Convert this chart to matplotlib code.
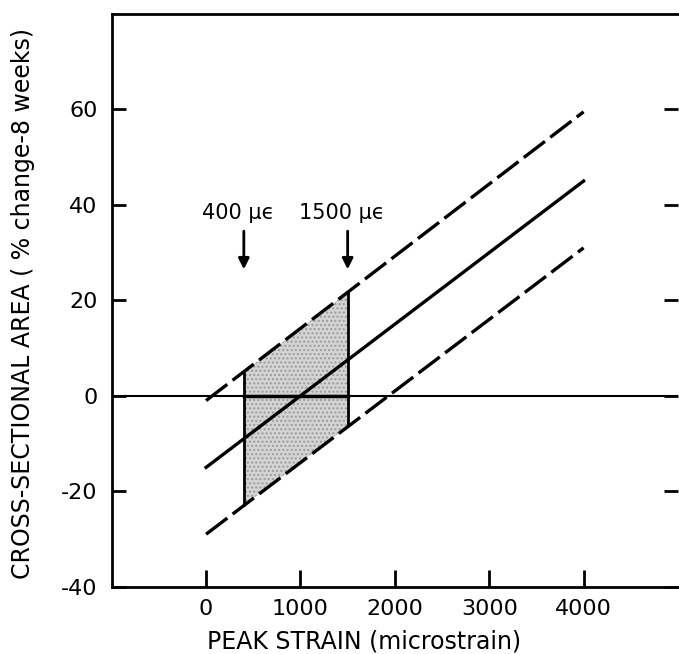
import numpy as np
import matplotlib
matplotlib.use('Agg')
import matplotlib.pyplot as plt

# data
strain = [0, 4000]                  # microstrain, ends of the lines
mean_line = [-15, 45]               # solid regression line
upper_line = [-1, 59.5]             # upper dashed band
lower_line = [-29, 31]              # lower dashed band
window = [400, 1500]                # shaded strain window
window_labels = ['400 μϵ', '1500 μϵ']

xticks = [0, 1000, 2000, 3000, 4000]
yticks = [-40, -20, 0, 20, 40, 60]

fig = plt.figure(figsize=(6.79, 6.54), dpi=100)
ax = fig.add_axes([0.1645, 0.1029, 0.834, 0.8757])

slope_u = (upper_line[1]-upper_line[0])/(strain[1]-strain[0])
slope_l = (lower_line[1]-lower_line[0])/(strain[1]-strain[0])
xs = np.array(window)
up = upper_line[0] + slope_u*(xs-strain[0])
lo = lower_line[0] + slope_l*(xs-strain[0])

ax.fill_between(xs, lo, up, facecolor='#d4d4d4', edgecolor='#9a9a9a',
                hatch='....', lw=0, zorder=1)
ax.vlines(xs, lo, up, color='black', lw=2, zorder=3)

ax.axhline(0, color='black', lw=1.5, zorder=2)
ax.plot(window, [0, 0], color='black', lw=2.5, zorder=3)

ax.plot(strain, mean_line, color='black', lw=2.4, zorder=4)
ax.plot(strain, upper_line, color='black', lw=2.4, ls=(0, (8, 2)), zorder=4)
ax.plot(strain, lower_line, color='black', lw=2.4, ls=(0, (8, 2)), zorder=4)

for x, lab in zip(window, window_labels):
    ax.text(x - 60, 36.3, lab, ha='center', va='bottom', fontsize=15)
    ax.annotate('', xy=(x, 26.5), xytext=(x, 34.5),
                arrowprops=dict(arrowstyle='-|>', color='black', lw=2,
                                mutation_scale=16, shrinkA=0, shrinkB=0))

ax.set_xlim(-1000, 5000)
ax.set_ylim(-40, 80)
ax.set_xticks(xticks)
ax.set_yticks(yticks)
ax.set_xticklabels([str(t) for t in xticks], fontsize=16)
ax.set_yticklabels([str(t) for t in yticks], fontsize=16)
ax.tick_params(axis='x', direction='in', length=12, width=2, pad=9)
ax.tick_params(axis='y', direction='in', length=10, width=2, pad=10, right=True)

for s in ['left', 'top', 'bottom']:
    ax.spines[s].set_linewidth(2)
ax.spines['right'].set_visible(False)

ax.set_xlabel('PEAK STRAIN (microstrain)', fontsize=17)
ax.xaxis.set_label_coords(0.4455, -0.074)
ax.set_ylabel('CROSS-SECTIONAL AREA ( % change-8 weeks)', fontsize=17)
ax.yaxis.set_label_coords(-0.135, 0.495)

fig.savefig('out.png', dpi=100)
